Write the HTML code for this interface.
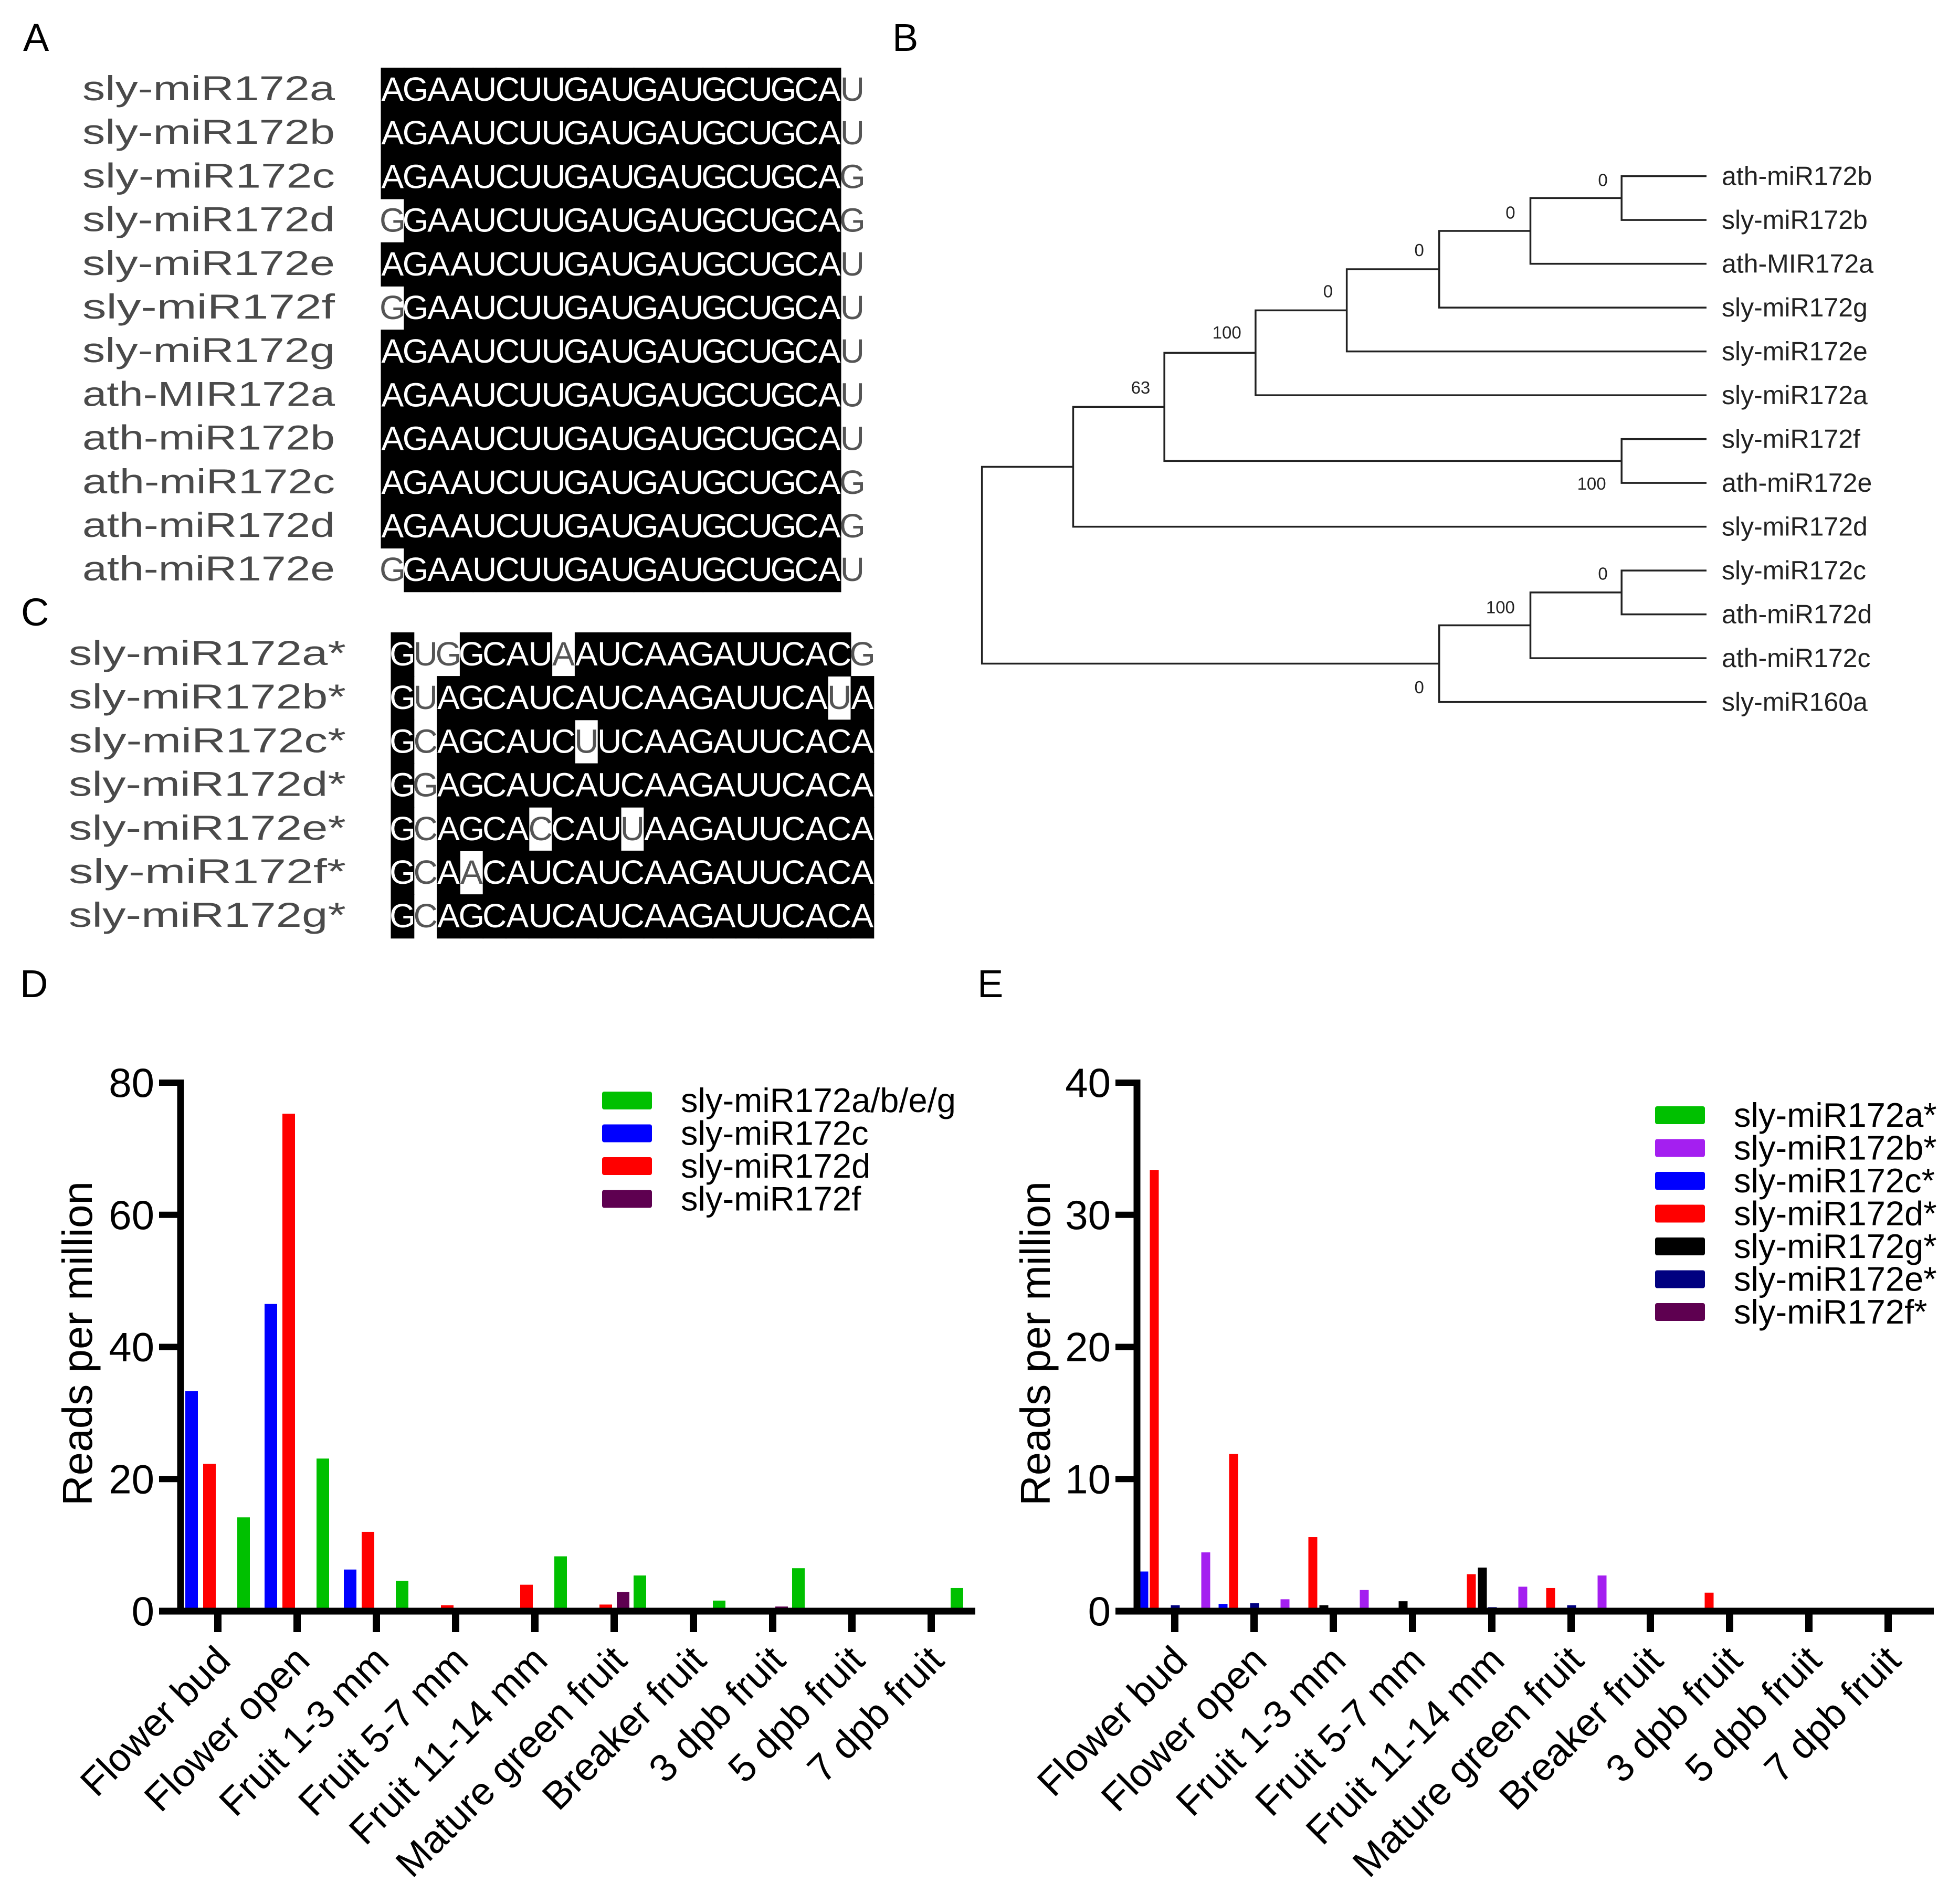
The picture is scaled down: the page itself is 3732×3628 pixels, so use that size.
<!DOCTYPE html>
<html><head><meta charset="utf-8"><style>
html,body{margin:0;padding:0;background:#fff}
svg{display:block}
text{font-family:"Liberation Sans",sans-serif}
</style></head><body>
<svg id="fig" width="3732" height="3628" viewBox="0 0 3732 3628" xmlns="http://www.w3.org/2000/svg">
<rect width="3732" height="3628" fill="#fff"/>
<g font-size="74" fill="#000">
<text x="44" y="97">A</text><text x="1700" y="97">B</text><text x="40" y="1192">C</text>
<text x="38" y="1900">D</text><text x="1862" y="1900">E</text>
</g>
<g id="pA"></g>
<g id="pC"></g>
<g id="pB"></g>
<g id="pD"></g>
<g id="pE"></g>
</svg>
<script>
const NS="http://www.w3.org/2000/svg";
function mk(p,tag,at,txt){const e=document.createElementNS(NS,tag);for(const k in at)e.setAttribute(k,at[k]);if(txt!==undefined)e.textContent=txt;p.appendChild(e);return e;}

// ---------- Panel A ----------
const namesA=["sly-miR172a","sly-miR172b","sly-miR172c","sly-miR172d","sly-miR172e","sly-miR172f","sly-miR172g","ath-MIR172a","ath-miR172b","ath-miR172c","ath-miR172d","ath-miR172e"];
const seqsA=["AGAAUCUUGAUGAUGCUGCAU","AGAAUCUUGAUGAUGCUGCAU","AGAAUCUUGAUGAUGCUGCAG","GGAAUCUUGAUGAUGCUGCAG","AGAAUCUUGAUGAUGCUGCAU","GGAAUCUUGAUGAUGCUGCAU","AGAAUCUUGAUGAUGCUGCAU","AGAAUCUUGAUGAUGCUGCAU","AGAAUCUUGAUGAUGCUGCAU","AGAAUCUUGAUGAUGCUGCAG","AGAAUCUUGAUGAUGCUGCAG","GGAAUCUUGAUGAUGCUGCAU"];
const whiteA=[[20],[20],[20],[0,20],[20],[0,20],[20],[20],[20],[20],[20],[0,20]];
const namesC=["sly-miR172a*","sly-miR172b*","sly-miR172c*","sly-miR172d*","sly-miR172e*","sly-miR172f*","sly-miR172g*"];
const seqsC=["GUGGCAUAAUCAAGAUUCACG","GUAGCAUCAUCAAGAUUCAUA","GCAGCAUCUUCAAGAUUCACA","GGAGCAUCAUCAAGAUUCACA","GCAGCACCAUUAAGAUUCACA","GCAACAUCAUCAAGAUUCACA","GCAGCAUCAUCAAGAUUCACA"];
const whiteC=[[1,2,7,20],[1,19],[1,8],[1],[1,6,10],[1,3],[1]];

function alignment(g,names,seqs,whites,nameX,nameW,seqX,cy0,pref){
  const cw=43.8,rh=83.2;
  names.forEach((n,i)=>{
    const cy=cy0+i*rh;
    const t=mk(g,"text",{x:nameX,y:cy+20,"font-size":66,fill:"#4a4a4a",textLength:nameW,lengthAdjust:"spacingAndGlyphs","font-family":"Liberation Mono, monospace"},n);
    
    
    const s=seqs[i];
    for(let c=0;c<s.length;c++){
      const w=whites[i].includes(c);
      if(!w){const r=mk(g,"rect",{x:seqX+c*cw-0.5,y:cy-rh/2-0.5,width:cw+1,height:rh+1,fill:"#000"});
        
        }
      const ch=mk(g,"text",{x:seqX+c*cw+cw/2,y:cy+21,"font-size":64,"text-anchor":"middle",fill:w?"#555":"#fff","font-family":"Liberation Mono, monospace"},s[c]);
      
      
    }
  });
}
alignment(document.getElementById("pA"),namesA,seqsA,whiteA,157,481,726,171,"a");
alignment(document.getElementById("pC"),namesC,seqsC,whiteC,131,528,745,1247,"c");

// ---------- Panel B tree ----------
const leaves=["ath-miR172b","sly-miR172b","ath-MIR172a","sly-miR172g","sly-miR172e","sly-miR172a","sly-miR172f","ath-miR172e","sly-miR172d","sly-miR172c","ath-miR172d","ath-miR172c","sly-miR160a"];
const nodes=[
 [0,1,1298,"0",1283,144],
 ["n0",2,1225,"0",1209,170],
 ["n1",3,1152,"0",1136,200],
 ["n2",4,1078,"0",1063,233],
 ["n3",5,1005,"100",982,266],
 [6,7,1298,"100",1274,387],
 ["n4","n5",932,"63",913,310],
 ["n6",8,859,"",0,0],
 [9,10,1298,"0",1283,459],
 ["n8",11,1225,"100",1201,486],
 ["n9",12,1152,"0",1136,550],
 ["n7","n10",786,"",0,0]
];
(function(){
  const g=document.getElementById("pB"),S=2.38,tipX=3251,y0=335.6,dy=83.5;
  const pos={};
  leaves.forEach((l,i)=>{pos[i]={x:tipX,y:y0+i*dy};
    const t=mk(g,"text",{x:3280,y:y0+i*dy+17,"font-size":50,fill:"#222"},l);
    
    });
  nodes.forEach((n,k)=>{
    const a=pos[n[0]],b=pos[n[1]];
    const x=n[2]*S,y=(a.y+b.y)/2;pos["n"+k]={x:x,y:y};
    const p=mk(g,"path",{d:`M${a.x},${a.y}H${x}V${b.y}H${b.x}`,fill:"none",stroke:"#222","stroke-width":3.5});
    
    
    if(n[3]){const t=mk(g,"text",{x:n[4]*S,y:n[5]*S+12,"font-size":33,"text-anchor":"middle",fill:"#222"},n[3]);
      
      }
  });
})();

// ---------- Charts ----------
const categories=["Flower bud","Flower open","Fruit 1-3 mm","Fruit 5-7 mm","Fruit 11-14 mm","Mature green fruit","Breaker fruit","3 dpb fruit","5 dpb fruit","7 dpb fruit"];
const dTicks=[0,20,40,60,80];
const dGreen=[14.2,23.1,4.6,0,8.3,5.4,1.6,6.5,0,3.5];
const dBlue=[33.3,46.5,6.3,0,0,0,0,0,0,0];
const dRed=[22.3,75.3,12,0.9,4,1,0,0,0,0];
const dPurple=[0,0.5,0,0,0,2.9,0,0.7,0,0];
const eTicks=[0,10,20,30,40];
const eA=[0,0,0.2,0,0,0,0,0,0,0];
const eB=[0,4.45,0.9,1.6,0,1.85,2.7,0,0,0];
const eC=[3,0.55,0,0,0,0,0,0,0,0];
const eD=[33.4,11.9,5.6,0,2.8,1.75,0,1.4,0,0];
const eG=[0,0,0.45,0.75,3.3,0,0,0,0,0];
const eE=[0.45,0.6,0,0,0.3,0.45,0,0,0,0];
const eF=[0,0,0,0,0,0,0,0,0,0];

function chart(g,cfg){
  const y=v=>cfg.y0-(v/cfg.max)*(cfg.y0-cfg.yTop);
  const xc=i=>cfg.tick0+i*cfg.step;
  cfg.series.forEach(s=>{
    s.vals.forEach((v,i)=>{ if(v<=0) return;
      const r=mk(g,"rect",{x:xc(i)+s.off-cfg.bw/2,y:y(v),width:cfg.bw,height:cfg.y0-y(v),fill:s.color});
      
      
    });
  });
  const ya=mk(g,"line",{x1:cfg.ax,y1:y(cfg.max)-6,x2:cfg.ax,y2:cfg.y0+6,stroke:"#000","stroke-width":13});
  
  
  const xa=mk(g,"line",{x1:cfg.ax-41,y1:cfg.y0,x2:cfg.axEnd,y2:cfg.y0,stroke:"#000","stroke-width":13});
  
  
  cfg.ticks.forEach(t=>{
    const l=mk(g,"line",{x1:cfg.ax-41,y1:y(t),x2:cfg.ax,y2:y(t),stroke:"#000","stroke-width":12});
    
    
    const tx=mk(g,"text",{x:cfg.ax-50,y:y(t)+27,"font-size":78,"text-anchor":"end"},String(t));
    
    
  });
  categories.forEach((c,i)=>{
    const l=mk(g,"line",{x1:xc(i),y1:cfg.y0,x2:xc(i),y2:cfg.y0+40,stroke:"#000","stroke-width":14});
    
    
    const ax=xc(i)+28,ay=cfg.y0+98;
    const t=mk(g,"text",{x:ax,y:ay,"font-size":74,"text-anchor":"end",transform:`rotate(-45 ${ax} ${ay})`},c);
    
    
  });
  const yt=mk(g,"text",{x:cfg.titleX,y:2560,"font-size":80,"text-anchor":"middle",transform:`rotate(-90 ${cfg.titleX} 2560)`},"Reads per million");
  
  
  cfg.legend.forEach((s,k)=>{
    const cy=cfg.legY+k*62.5;
    const r=mk(g,"rect",{x:cfg.legX,y:cy-17,width:95,height:34,rx:4,fill:s.color});
    
    
    const t=mk(g,"text",{x:cfg.legX+150,y:cy+22,"font-size":65},s.label);
    
    
  });
}
const G="#00c000",B="#0000ff",R="#ff0000",P="#5e0050",V="#a41ff0",K="#000000",N="#000080";
chart(document.getElementById("pD"),{y0:3070,yTop:2063,max:80,ticks:dTicks,ax:344,axEnd:1858,tick0:415,step:151,bw:24,titleX:175,
  series:[{key:"c",vals:dBlue,off:-50,color:B},{key:"d",vals:dRed,off:-16,color:R},{key:"f",vals:dPurple,off:17,color:P},{key:"abeg",vals:dGreen,off:49,color:G}],
  legX:1147,legY:2097,
  legend:[{color:G,label:"sly-miR172a/b/e/g"},{color:B,label:"sly-miR172c"},{color:R,label:"sly-miR172d"},{color:P,label:"sly-miR172f"}]});
chart(document.getElementById("pE"),{y0:3070,yTop:2063,max:40,ticks:eTicks,ax:2166,axEnd:3684,tick0:2238,step:151,bw:17,titleX:2000,
  series:[{key:"a",vals:eA,off:-113,color:G},{key:"b",vals:eB,off:-92,color:V},{key:"c",vals:eC,off:-59,color:B},{key:"d",vals:eD,off:-39,color:R},{key:"g",vals:eG,off:-18,color:K},{key:"e",vals:eE,off:1,color:N},{key:"f",vals:eF,off:21,color:P}],
  legX:3153,legY:2125,
  legend:[{color:G,label:"sly-miR172a*"},{color:V,label:"sly-miR172b*"},{color:B,label:"sly-miR172c*"},{color:R,label:"sly-miR172d*"},{color:K,label:"sly-miR172g*"},{color:N,label:"sly-miR172e*"},{color:P,label:"sly-miR172f*"}]});
</script>
</body></html>
